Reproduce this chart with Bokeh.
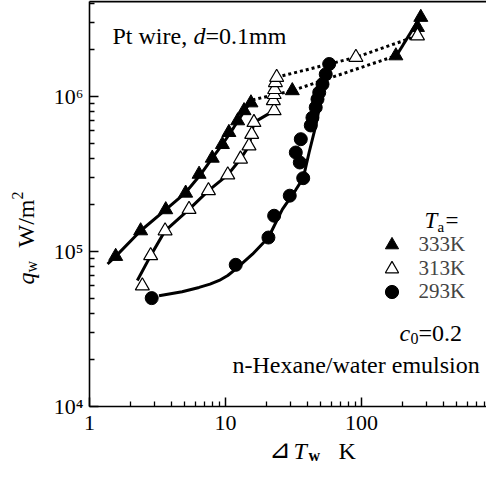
import math
from bokeh.plotting import figure
from bokeh.models import Range1d, FixedTicker, Label, Legend, LegendItem, LogAxis
from bokeh.embed import file_html
from bokeh.resources import INLINE

FONT = "Liberation Serif"

# ---- data ----
# Ta = 333 K (filled triangles)
t333_x = [1.56, 2.38, 3.64, 5.1, 6.4, 8.0, 9.5, 10.6, 12.3, 13.7, 15.4, 31, 179, 258, 273]
t333_y = [9.3e4, 1.36e5, 1.86e5, 2.38e5, 3.15e5, 4.0e5, 4.9e5, 5.86e5, 6.97e5, 8.1e5, 9.1e5,
          1.09e6, 1.83e6, 2.79e6, 3.24e6]
# Ta = 313 K (open triangles)
t313_x = [2.45, 2.82, 3.6, 5.4, 7.5, 10.4, 12.9, 14.9, 15.6, 16.2, 22.8, 22.5, 22.8, 23.0, 23.3,
          23.8, 91, 258]
t313_y = [6.0e4, 9.4e4, 1.36e5, 1.87e5, 2.47e5, 3.12e5, 3.95e5, 4.8e5, 5.7e5, 6.8e5, 8.1e5, 9.4e5,
          1.03e6, 1.11e6, 1.23e6, 1.33e6, 1.79e6, 2.46e6]
# Ta = 293 K (filled circles)
t293_x = [2.87, 11.9, 20.7, 22.8, 29.7, 37.3, 35.2, 32.9, 35.8, 42.4, 43.6, 46.1, 47.5, 48.9, 51.7,
          54.6, 57.9]
t293_y = [5.0e4, 8.2e4, 1.23e5, 1.7e5, 2.29e5, 2.97e5, 3.75e5, 4.35e5, 5.3e5, 6.5e5, 7.3e5, 8.5e5,
          9.6e5, 1.06e6, 1.2e6, 1.39e6, 1.62e6]

# fitted curves (solid) and transition lines (dotted)
f333_x = [1.36, 1.56, 2.38, 3.64, 5.1, 6.5, 8.0, 9.5, 11.5, 13.7, 15.8]
f333_y = [8.3e4, 9.3e4, 1.36e5, 1.86e5, 2.4e5, 3.1e5, 4.0e5, 4.9e5, 6.3e5, 8.0e5, 9.6e5]
f333b_x = [175, 273]
f333b_y = [1.75e6, 3.3e6]
d333_x = [15.8, 31, 179]
d333_y = [9.5e5, 1.09e6, 1.83e6]

f313_x = [2.25, 2.82, 3.6, 5.4, 7.5, 10.4, 12.9, 14.9, 16.2, 22.8]
f313_y = [6.5e4, 9.4e4, 1.36e5, 1.87e5, 2.47e5, 3.12e5, 3.95e5, 4.8e5, 6.8e5, 8.1e5]
d313_x = [23.8, 91, 258]
d313_y = [1.33e6, 1.79e6, 2.46e6]

f293_x = [3.25, 4.8, 6.4, 7.7, 9.0, 10.4, 11.9, 15.8, 20.7, 26.2, 32.9, 37.3, 41.2, 46.1, 51.7,
          59.5]
f293_y = [5.18e4, 5.5e4, 5.86e4, 6.15e4, 6.5e4, 7.0e4, 7.7e4, 9.6e4, 1.23e5, 1.87e5, 2.5e5,
          2.97e5, 4.35e5, 6.47e5, 1.06e6, 1.66e6]

legend_labels = ["333K", "313K", "293K"]

x_major = [1, 10, 100]
x_labels = ["1", "10", "100"]
y_major = [1e4, 1e5, 1e6]
y_labels = ["10\u2074", "10\u2075", "10\u2076"]

X_LO, X_HI = 1, 830          # axis extent
Y_LO, Y_HI = 1e4, 4.1e6

# ---- figure: the frame fills the canvas, axes are placed at fixed locations ----
p = figure(width=486, height=465, x_axis_type="log", y_axis_type="log",
           x_range=Range1d(0.222, 830), y_range=Range1d(4160, 4.16e6),
           output_backend="svg", toolbar_location=None,
           min_border_left=0, min_border_right=0, min_border_top=0, min_border_bottom=0)
p.outline_line_color = None
p.xgrid.visible = False
p.ygrid.visible = False
p.background_fill_color = "white"
p.border_fill_color = "white"

x_minor = [m * 10 ** e for e in range(0, 3) for m in range(2, 10)]
y_minor = [m * 10 ** e for e in range(4, 7) for m in range(2, 10)]
p.xaxis.ticker = FixedTicker(ticks=x_major, minor_ticks=x_minor)
p.yaxis.ticker = FixedTicker(ticks=y_major, minor_ticks=y_minor)
p.xaxis.major_label_overrides = {float(v): s for v, s in zip(x_major, x_labels)}
p.yaxis.major_label_overrides = {float(v): s for v, s in zip(y_major, y_labels)}
p.xaxis.fixed_location = Y_LO
p.yaxis.fixed_location = X_LO
p.xaxis.bounds = (X_LO, X_HI)
p.yaxis.bounds = (Y_LO, Y_HI)

for ax in (p.xaxis[0], p.yaxis[0]):
    ax.axis_line_width = 1.6
    ax.axis_line_color = "black"
    ax.major_tick_in = 9
    ax.major_tick_out = 0
    ax.minor_tick_in = 5
    ax.minor_tick_out = 0
    ax.major_tick_line_width = 1.5
    ax.minor_tick_line_width = 1.3
    ax.major_tick_line_color = "black"
    ax.minor_tick_line_color = "black"
    ax.major_label_text_font = FONT
    ax.major_label_text_font_size = "22px"
    ax.major_label_text_color = "black"
p.xaxis.major_label_standoff = 10
p.yaxis.major_label_standoff = 6
p.yaxis.major_label_orientation = "horizontal"

top = LogAxis(fixed_location=Y_HI, bounds=(X_LO, X_HI), axis_line_width=2,
              major_tick_in=0, major_tick_out=0, minor_tick_in=0, minor_tick_out=0,
              major_label_text_font_size="0px", ticker=FixedTicker(ticks=[]))
p.add_layout(top, "above")

# ---- lines ----
p.line(f333_x, f333_y, line_color="black", line_width=3)
p.line(f333b_x, f333b_y, line_color="black", line_width=3)
p.line(f313_x, f313_y, line_color="black", line_width=3)
p.line(f293_x, f293_y, line_color="black", line_width=3)
p.line(d333_x, d333_y, line_color="black", line_width=3, line_dash="3 3")
p.line(d313_x, d313_y, line_color="black", line_width=3, line_dash="3 3")

# ---- markers ----
r333 = p.scatter(t333_x, t333_y, marker="triangle", size=14, fill_color="black", line_color="black")
r313 = p.scatter(t313_x, t313_y, marker="triangle", size=14, fill_color="white", line_color="black",
                 line_width=1.2)
r293 = p.scatter(t293_x, t293_y, marker="circle", size=13, fill_color="black", line_color="black")

# one single-row legend per series, stacked like the reference key
for lbl, rend, ybot in zip(legend_labels, [r333, r313, r293], [204, 180.5, 157]):
    lg = Legend(items=[LegendItem(label=lbl, renderers=[rend])],
                location=(374.5, ybot), orientation="vertical",
                glyph_width=33, glyph_height=33, label_height=20, spacing=0,
                padding=0, margin=0, label_standoff=11,
                label_text_font=FONT, label_text_font_size="21px",
                border_line_color=None, background_fill_alpha=0)
    p.add_layout(lg)


def lab(text, x, y, size=24, style="normal", angle=0.0, font=FONT):
    p.add_layout(Label(x=x, y=y, x_units="screen", y_units="screen", text=text,
                       text_font=font, text_font_size=f"{size}px", text_font_style=style,
                       text_align="left", text_baseline="middle", angle=angle,
                       text_color="black"))


# in-plot annotations
lab("Pt wire, ", 112, 430)
lab("d", 193, 430, style="italic")
lab("=0.1mm", 205, 430)
lab("T", 424, 245, size=23, style="italic")
lab("a", 437, 239, size=15)
lab("=", 445, 245, size=23)
lab("c", 399, 133, style="italic")
lab("0", 410, 127, size=16)
lab("=0.2", 418, 133)
lab("n-Hexane/water emulsion", 232, 101)

# x axis title
lab("\u22bf", 268, 17, size=26, font="DejaVu Serif")
lab("T", 293, 15, style="italic")
lab("w", 308, 10, size=16, style="bold")
lab("K", 338, 15)

# y axis title (rotated)
a = math.pi / 2
lab("q", 25, 181, style="italic", angle=a)
lab("w", 31, 193, size=16, angle=a)
lab("W/m", 25, 218, angle=a)
lab("2", 17, 266, size=16, angle=a)

open("out.html", "w").write(file_html(p, INLINE))
